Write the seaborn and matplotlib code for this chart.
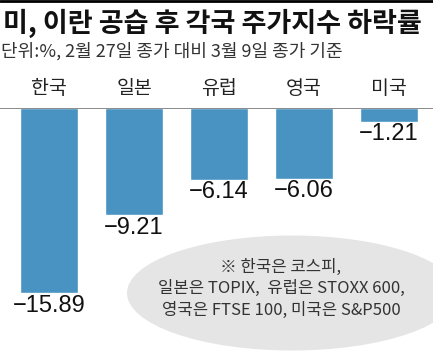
import pandas as pd
import seaborn as sns
import matplotlib.pyplot as plt
from matplotlib.patches import Ellipse

# Data
countries = ['한국', '일본', '유럽', '영국', '미국']
changes = [-15.89, -9.21, -6.14, -6.06, -1.21]
labels = ['−15.89', '−9.21', '−6.14', '−6.06', '−1.21']

title = '미, 이란 공습 후 각국 주가지수 하락률'
subtitle = '단위:%, 2월 27일 종가 대비 3월 9일 종가 기준'
note = ['※ 한국은 코스피,', '일본은 TOPIX,  유럽은 STOXX 600,', '영국은 FTSE 100, 미국은 S&P500']

df = pd.DataFrame({'country': countries, 'change': changes})

sns.set_style('white')
plt.rcParams['font.family'] = ['Noto Sans CJK KR', 'DejaVu Sans']

W, H = 433, 351
fig = plt.figure(figsize=(W / 100, H / 100), dpi=100)
ax = fig.add_axes([0, 0, 1, 243 / H])

sns.barplot(data=df, x='country', y='change', color='#4893c2', saturation=1,
            width=0.68, ax=ax)

ax.set_xlim(-49 / 85, (W - 49) / 85)
ax.set_ylim(-243 / 11.65, 0)
ax.axis('off')
ax.axhline(0, color='#777777', lw=1.2)

for i, (v, lab) in enumerate(zip(changes, labels)):
    ax.annotate(lab, (i, v), xytext=(0, -1), textcoords='offset points',
                ha='center', va='top', fontsize=17,
                family=['Liberation Sans Narrow', 'Liberation Sans'], color='#111111')
    ax.annotate(countries[i], (i, 0), xytext=(0, 14), textcoords='offset points',
                ha='center', va='center', fontsize=14, color='#222222')

# note bubble
ell = Ellipse((292 / W, (H - 293) / H), 330 / W, 115 / H, transform=fig.transFigure,
              facecolor='#e5e5e5', edgecolor='none', zorder=0)
fig.patches.append(ell)
for k, line in enumerate(note):
    fig.text(281 / W, (H - 267 - 21.5 * k) / H, line, ha='center', va='center',
             fontsize=12, color='#333333')

fig.text(3 / W, (H - 23) / H, title, ha='left', va='center', fontsize=19.5,
         fontweight='bold', color='#111111')
fig.text(1 / W, (H - 51) / H, subtitle, ha='left', va='center', fontsize=13,
         color='#333333')
fig.add_artist(plt.Line2D([0, 1], [1 - 1 / H, 1 - 1 / H], transform=fig.transFigure,
                          color='black', lw=2))

fig.savefig('out.png', dpi=100)
